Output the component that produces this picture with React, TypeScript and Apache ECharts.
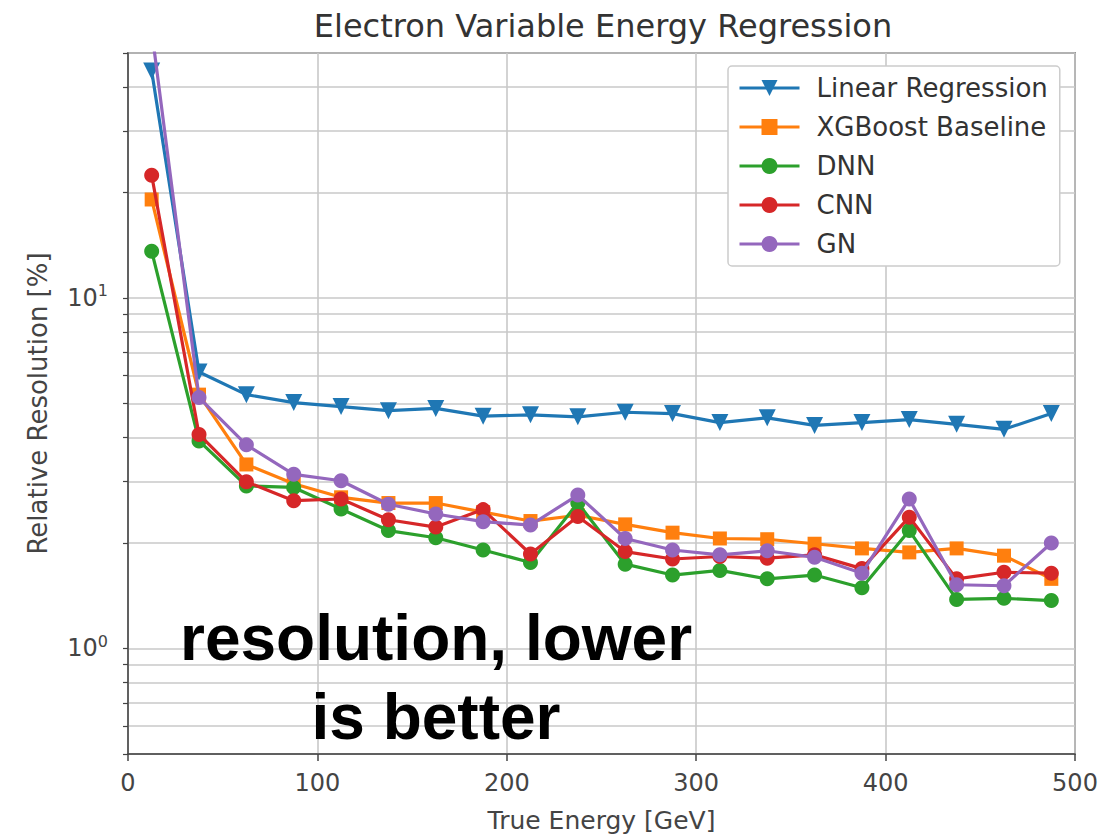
import React, { useEffect, useRef } from "react";
import * as echarts from "echarts";

const xValues = [12.5, 37.5, 62.5, 87.5, 112.5, 137.5, 162.5, 187.5, 212.5, 237.5, 262.5, 287.5, 312.5, 337.5, 362.5, 387.5, 412.5, 437.5, 462.5, 487.5];
const linearRegression = [44.4, 6.15, 5.3, 5.03, 4.9, 4.77, 4.84, 4.6, 4.64, 4.58, 4.72, 4.68, 4.41, 4.55, 4.33, 4.41, 4.5, 4.36, 4.22, 4.68];
const xgboostBaseline = [19.1, 5.3, 3.35, 2.95, 2.7, 2.6, 2.6, 2.45, 2.31, 2.4, 2.26, 2.14, 2.06, 2.05, 1.99, 1.93, 1.88, 1.93, 1.84, 1.58];
const dnn = [13.6, 3.91, 2.91, 2.88, 2.5, 2.17, 2.07, 1.91, 1.76, 2.6, 1.74, 1.62, 1.67, 1.58, 1.62, 1.49, 2.17, 1.38, 1.39, 1.37];
const cnn = [22.4, 4.08, 2.99, 2.64, 2.67, 2.33, 2.22, 2.49, 1.86, 2.38, 1.89, 1.8, 1.83, 1.81, 1.85, 1.69, 2.37, 1.58, 1.65, 1.64];
const gn = [58, 5.2, 3.81, 3.14, 3.01, 2.58, 2.42, 2.3, 2.25, 2.74, 2.06, 1.91, 1.85, 1.9, 1.82, 1.64, 2.67, 1.52, 1.51, 2.0];

const seriesNames = ["Linear Regression", "XGBoost Baseline", "DNN", "CNN", "GN"];
const xTicks = [0, 100, 200, 300, 400, 500];
const yMajorTicks = [1, 10];
const yAllTicks = [0.5, 0.6, 0.7, 0.8, 0.9, 1, 2, 3, 4, 5, 6, 7, 8, 9, 10, 20, 30, 40, 50];

const FONT = "DejaVu Sans";

export default function App() {
  const ref = useRef<HTMLDivElement>(null);
  useEffect(() => {
    if (!ref.current) return;
    const chart = echarts.init(ref.current, null, { renderer: "svg" });
    const colors = ["#1f77b4", "#ff7f0e", "#2ca02c", "#d62728", "#9467bd"];
    const dataSets = [linearRegression, xgboostBaseline, dnn, cnn, gn];
    const symbols = ["triangle", "rect", "circle", "circle", "circle"];
    const sizes = [17, 14, 15, 15, 15];
    const series = dataSets.map((d, i) => ({
      name: seriesNames[i],
      type: "line",
      data: xValues.map((x, j) => [x, d[j]]),
      symbol: symbols[i],
      symbolSize: sizes[i],
      symbolRotate: i === 0 ? 180 : 0,
      showAllSymbol: true,
      clip: true,
      color: colors[i],
      itemStyle: { color: colors[i], opacity: 1 },
      lineStyle: { color: colors[i], width: 3.2 },
      z: 2 + i,
    }));
    chart.setOption({
      animation: false,
      backgroundColor: "#ffffff",
      grid: {
        left: 128,
        right: 45,
        top: 53,
        bottom: 83,
        show: true,
        borderColor: "#444",
        borderWidth: 1.5,
        backgroundColor: "transparent",
      },
      legend: {
        orient: "vertical",
        left: 728,
        top: 66,
        padding: [9, 12, 9, 10],
        itemGap: 13,
        itemWidth: 60,
        itemHeight: 20,
        backgroundColor: "#ffffff",
        borderColor: "#cccccc",
        borderWidth: 1.5,
        borderRadius: 4,
        lineStyle: { width: 3 },
        textStyle: { fontFamily: FONT, fontSize: 26, color: "#333", padding: [0, 0, 0, 12] },
        data: seriesNames,
      },
      xAxis: {
        type: "value",
        min: xTicks[0],
        max: xTicks[xTicks.length - 1],
        interval: 100,
        name: "True Energy [GeV]",
        nameLocation: "middle",
        nameGap: 54,
        nameTextStyle: { fontFamily: FONT, fontSize: 25, color: "#444" },
        axisLine: { show: true, lineStyle: { color: "#444", width: 1.5 } },
        axisTick: { show: true, inside: false, length: 7, lineStyle: { color: "#444", width: 1.5 } },
        axisLabel: { fontFamily: FONT, fontSize: 24, color: "#444", margin: 17 },
        splitLine: { show: true, lineStyle: { color: "#c8c8c8", width: 1.6 } },
      },
      yAxis: {
        type: "log",
        logBase: 10,
        min: 0.5,
        max: 50,
        name: "Relative Resolution [%]",
        nameLocation: "middle",
        nameGap: 77,
        nameTextStyle: { fontFamily: FONT, fontSize: 26, color: "#444" },
        axisLine: { show: true, lineStyle: { color: "#444", width: 1.5 } },
        axisTick: { show: true, inside: false, length: 5, customValues: yAllTicks, lineStyle: { color: "#444", width: 1.2 } },
        axisLabel: {
          customValues: yMajorTicks,
          margin: 20,
          fontFamily: FONT,
          fontSize: 24,
          color: "#444",
          formatter: (v: number) => "10{sup|" + Math.round(Math.log10(v)) + "}",
          rich: {
            sup: { fontFamily: FONT, fontSize: 16, color: "#444", padding: [0, 0, 14, 0] },
          },
        },
        splitLine: { show: true, lineStyle: { color: "#c8c8c8", width: 1.6 } },
      },
      graphic: [
        {
          type: "text",
          x: 603,
          y: 26,
          style: {
            text: "Electron Variable Energy Regression",
            textAlign: "center",
            textVerticalAlign: "middle",
            fontFamily: FONT,
            fontSize: 32,
            fill: "#333",
          },
        },
        {
          type: "text",
          x: 436,
          y: 638,
          z: 100,
          style: {
            text: "resolution, lower",
            textAlign: "center",
            textVerticalAlign: "middle",
            fontFamily: "Liberation Sans",
            fontWeight: "bold",
            fontSize: 64,
            fill: "#000",
          },
        },
        {
          type: "text",
          x: 436,
          y: 717,
          z: 100,
          style: {
            text: "is better",
            textAlign: "center",
            textVerticalAlign: "middle",
            fontFamily: "Liberation Sans",
            fontWeight: "bold",
            fontSize: 64,
            fill: "#000",
          },
        },
      ],
      series,
    });
    return () => chart.dispose();
  }, []);
  return (
    <div
      ref={ref}
      style={{ position: "fixed", left: 0, top: 0, width: 1120, height: 838, background: "#fff" }}
    />
  );
}
